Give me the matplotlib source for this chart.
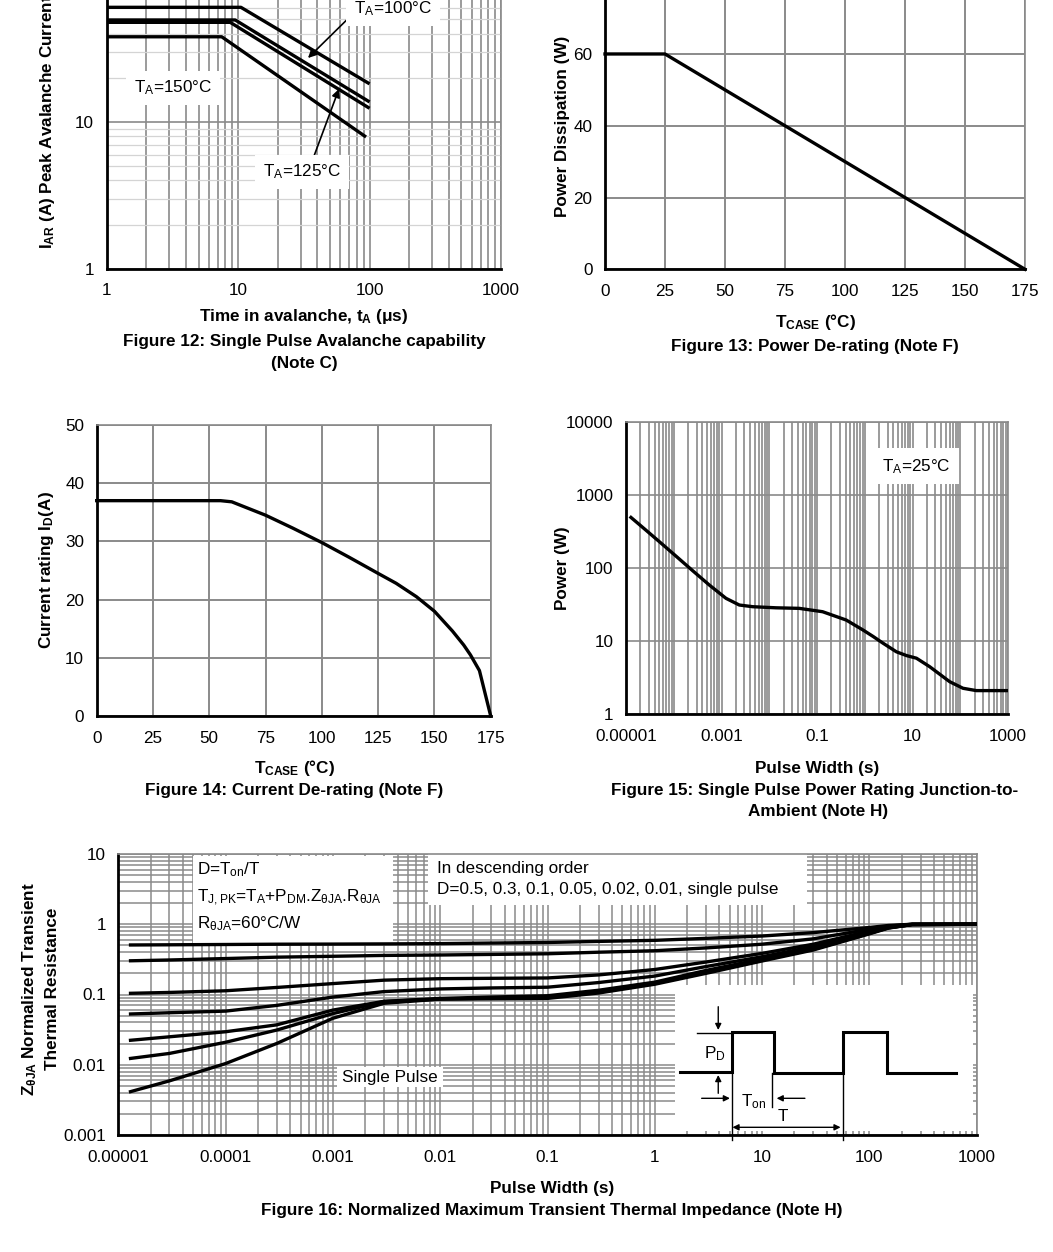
import numpy as np
import matplotlib
matplotlib.use('Agg')
import matplotlib.pyplot as plt
from matplotlib.ticker import FixedLocator, FixedFormatter, LogLocator, NullFormatter
from matplotlib.patches import Rectangle

plt.rcParams['font.family'] = ['Liberation Sans', 'DejaVu Sans']
plt.rcParams['mathtext.fontset'] = 'custom'
plt.rcParams['mathtext.rm'] = 'Liberation Sans'
plt.rcParams['mathtext.default'] = 'regular'

###############################################################################
# Data
###############################################################################

# Figure 12: avalanche current vs time (one curve per ambient temperature)
aval_t_25 = [1, 10.5, 100]
aval_i_25 = [60.5, 60.5, 18.2]
aval_t_100 = [1, 9.5, 100]
aval_i_100 = [49.6, 49.6, 13.7]
aval_t_125 = [1, 8.7, 100]
aval_i_125 = [47.8, 47.8, 12.4]
aval_t_150 = [1, 7.5, 94]
aval_i_150 = [38.1, 38.1, 7.9]
aval_xticks = [1, 10, 100, 1000]
aval_yticks = [1, 10, 100]

# Figure 13: power de-rating
pd_tcase = [0, 25, 175]
pd_watts = [60, 60, 0]

# Figure 14: current de-rating
id_tcase = [0, 55, 60, 75, 87, 100, 112, 125, 133, 142, 150, 158, 163, 166, 170, 175]
id_amps = [37, 37, 36.8, 34.5, 32.3, 29.8, 27.3, 24.5, 22.8, 20.5, 18.0, 14.6, 12.2,
           10.5, 7.8, 0]

temp_ticks = [0, 25, 50, 75, 100, 125, 150, 175]

# Figure 15: single pulse power rating
spp_width = [1.27e-5, 2.6e-5, 5e-5, 1.11e-4, 2.49e-4, 5.56e-4, 1.24e-3, 2.36e-3, 4.5e-3,
             0.0138, 0.0426, 0.131, 0.41, 0.92, 1.5, 2.42, 4.6, 7.5, 12.1, 22.9, 60,
             114, 217, 1000]
spp_power = [490, 329, 228, 145, 91.4, 58.2, 38.3, 31, 29.4, 28.4, 27.9, 25.1, 19.3,
             14.1, 11.5, 9.3, 7.1, 6.3, 5.8, 4.44, 2.77, 2.25, 2.09, 2.09]
spp_xticks = [1e-5, 1e-3, 1e-1, 10, 1000]
spp_xlabels = ['0.00001', '0.001', '0.1', '10', '1000']
spp_yticks = [1, 10, 100, 1000, 10000]
spp_ylabels = ['1', '10', '100', '1000', '10000']

# Figure 16: normalized transient thermal impedance
zth_width = [1.3e-5, 3e-5, 1e-4, 3e-4, 1e-3, 3e-3, 1e-2, 3e-2, 0.1, 0.3, 1, 3, 10, 30,
             100, 150, 250, 1000]
zth_d050 = [0.507, 0.51, 0.515, 0.52, 0.522, 0.525, 0.53, 0.54, 0.55, 0.57, 0.59, 0.63,
            0.68, 0.76, 0.9, 0.96, 1.0, 1.0]
zth_d030 = [0.302, 0.31, 0.325, 0.34, 0.35, 0.36, 0.365, 0.372, 0.38, 0.4, 0.42, 0.46,
            0.52, 0.62, 0.85, 0.94, 1.0, 1.0]
zth_d010 = [0.104, 0.107, 0.113, 0.126, 0.143, 0.16, 0.168, 0.17, 0.172, 0.19, 0.227,
            0.29, 0.385, 0.52, 0.8, 0.92, 1.0, 1.0]
zth_d005 = [0.0528, 0.055, 0.058, 0.07, 0.092, 0.11, 0.12, 0.124, 0.127, 0.148, 0.183,
            0.25, 0.345, 0.48, 0.77, 0.9, 0.99, 1.0]
zth_d002 = [0.0223, 0.025, 0.0295, 0.037, 0.06, 0.08, 0.088, 0.092, 0.096, 0.115, 0.15,
            0.22, 0.32, 0.45, 0.75, 0.89, 0.99, 1.0]
zth_d001 = [0.0123, 0.0145, 0.0209, 0.0312, 0.0535, 0.0795, 0.086, 0.089, 0.092, 0.11,
            0.145, 0.21, 0.31, 0.44, 0.74, 0.89, 0.99, 1.0]
zth_single = [0.00414, 0.0059, 0.0104, 0.0201, 0.0459, 0.075, 0.086, 0.087, 0.088, 0.105,
              0.14, 0.2, 0.30, 0.43, 0.73, 0.88, 0.99, 1.0]
zth_curves = [zth_d050, zth_d030, zth_d010, zth_d005, zth_d002, zth_d001, zth_single]
zth_xticks = [1e-5, 1e-4, 1e-3, 1e-2, 1e-1, 1, 10, 100, 1000]
zth_xlabels = ['0.00001', '0.0001', '0.001', '0.01', '0.1', '1', '10', '100', '1000']
zth_yticks = [1e-3, 1e-2, 1e-1, 1, 10]
zth_ylabels = ['0.001', '0.01', '0.1', '1', '10']

# Duty cycle sketch inside figure 16 (inset units)
pulse_u = [5, 56.7, 56.7, 99, 99, 168.3, 168.3, 211.7, 211.7, 281]
pulse_v = [59, 59, 98.7, 98.7, 58, 58, 98.7, 98.7, 58, 58]

###############################################################################
# Layout helpers (pixel positions of the original page)
###############################################################################
W, H = 1053, 1252
GRID = '#8a8a8a'
LIGHT = '#d4d4d4'
LW = 2.4
TICK = 12.3
LAB = 12.3


def box(l, t, r, b):
    return [l / W, 1 - b / H, (r - l) / W, (b - t) / H]


def px(x, y):
    return x / W, 1 - y / H


def style(ax):
    for s in ['left', 'bottom']:
        ax.spines[s].set_color('black')
        ax.spines[s].set_linewidth(2)
    for s in ['top', 'right']:
        ax.spines[s].set_color(GRID)
        ax.spines[s].set_linewidth(1.2)
    ax.tick_params(which='both', length=0, labelsize=TICK)
    ax.tick_params(axis='x', pad=10.5)
    ax.tick_params(axis='y', pad=9)
    ax.set_axisbelow(True)


fig = plt.figure(figsize=(W / 100, H / 100), dpi=100)

###############################################################################
# Figure 12
###############################################################################
ax = fig.add_axes(box(106.7, -24.7, 501, 268.7))
ax.set_xscale('log')
ax.set_yscale('log')
ax.set_xlim(1, 1000)
ax.set_ylim(1, 100)
for t, i in [(aval_t_25, aval_i_25), (aval_t_100, aval_i_100),
             (aval_t_125, aval_i_125), (aval_t_150, aval_i_150)]:
    ax.plot(t, i, color='black', lw=LW, solid_capstyle='butt', zorder=3)
ax.xaxis.set_major_locator(FixedLocator(aval_xticks))
ax.xaxis.set_major_formatter(FixedFormatter([str(v) for v in aval_xticks]))
ax.yaxis.set_major_locator(FixedLocator(aval_yticks))
ax.yaxis.set_major_formatter(FixedFormatter([str(v) for v in aval_yticks]))
ax.xaxis.set_minor_locator(LogLocator(base=10, subs=np.arange(2, 10)))
ax.yaxis.set_minor_locator(LogLocator(base=10, subs=np.arange(2, 10)))
ax.xaxis.set_minor_formatter(NullFormatter())
ax.yaxis.set_minor_formatter(NullFormatter())
ax.grid(True, which='major', color=GRID, lw=1.2)
ax.grid(True, axis='x', which='minor', color=GRID, lw=1.2)
ax.grid(True, axis='y', which='minor', color=LIGHT, lw=0.9)
style(ax)
wbox = dict(boxstyle='square,pad=0.45', fc='white', ec='none')
ax.text(3.2, 17.1, 'T$_\\mathregular{A}$=150°C', fontsize=LAB, ha='center', va='center', bbox=wbox)
ax.annotate('T$_\\mathregular{A}$=100°C', xy=(34, 27.3), xytext=(151, 58.9), fontsize=LAB,
            ha='center', va='center', bbox=wbox,
            arrowprops=dict(arrowstyle='-|>', color='black', lw=1.2, mutation_scale=12,
                            shrinkA=0, shrinkB=0, relpos=(0.0, 0.3)))
ax.annotate('T$_\\mathregular{A}$=125°C', xy=(58.5, 16.8), xytext=(30.7, 4.56), fontsize=LAB,
            ha='center', va='center', bbox=wbox,
            arrowprops=dict(arrowstyle='-|>', color='black', lw=1.2, mutation_scale=12,
                            shrinkA=0, shrinkB=0, relpos=(0.62, 1.0)))
fig.text(*px(47.5, 122), 'I$_\\mathregular{AR}$ (A) Peak Avalanche Current', rotation=90,
         ha='center', va='center', fontsize=LAB, fontweight='bold')
fig.text(*px(304, 317), 'Time in avalanche, t$_\\mathregular{A}$ (μs)', ha='center', va='center',
         fontsize=LAB, fontweight='bold')
fig.text(*px(304, 341.5), 'Figure 12: Single Pulse Avalanche capability', ha='center',
         va='center', fontsize=LAB, fontweight='bold')
fig.text(*px(304, 363.5), '(Note C)', ha='center', va='center', fontsize=LAB, fontweight='bold')

###############################################################################
# Figure 13
###############################################################################
ax = fig.add_axes(box(605, -17.8, 1025, 269.3))
ax.plot(pd_tcase, pd_watts, color='black', lw=LW, zorder=3, clip_on=False)
ax.set_xlim(0, 175)
ax.set_ylim(0, 80)
ax.set_xticks(temp_ticks)
ax.set_yticks([0, 20, 40, 60, 80])
ax.grid(True, color=GRID, lw=1.4)
style(ax)
fig.text(*px(562.5, 126), 'Power Dissipation (W)', rotation=90, ha='center', va='center',
         fontsize=LAB, fontweight='bold')
fig.text(*px(815.5, 322.5), 'T$_\\mathregular{CASE}$ (°C)', ha='center', va='center',
         fontsize=LAB, fontweight='bold')
fig.text(*px(815, 346.5), 'Figure 13: Power De-rating (Note F)', ha='center', va='center',
         fontsize=LAB, fontweight='bold')

###############################################################################
# Figure 14
###############################################################################
ax = fig.add_axes(box(96.7, 425, 490.7, 716))
ax.plot(id_tcase, id_amps, color='black', lw=LW, zorder=3, clip_on=False)
ax.set_xlim(0, 175)
ax.set_ylim(0, 50)
ax.set_xticks(temp_ticks)
ax.set_yticks([0, 10, 20, 30, 40, 50])
ax.grid(True, color=GRID, lw=1.4)
style(ax)
fig.text(*px(47, 570.5), 'Current rating I$_\\mathregular{D}$(A)', rotation=90, ha='center',
         va='center', fontsize=LAB, fontweight='bold')
fig.text(*px(294, 768), 'T$_\\mathregular{CASE}$ (°C)', ha='center', va='center',
         fontsize=LAB, fontweight='bold')
fig.text(*px(294, 790), 'Figure 14: Current De-rating (Note F)', ha='center', va='center',
         fontsize=LAB, fontweight='bold')

###############################################################################
# Figure 15
###############################################################################
ax = fig.add_axes(box(626, 421.7, 1008, 714))
ax.set_xscale('log')
ax.set_yscale('log')
ax.plot(spp_width, spp_power, color='black', lw=LW, zorder=3)
ax.set_xlim(1e-5, 1000)
ax.set_ylim(1, 10000)
ax.xaxis.set_major_locator(FixedLocator(spp_xticks))
ax.xaxis.set_major_formatter(FixedFormatter(spp_xlabels))
ax.yaxis.set_major_locator(FixedLocator(spp_yticks))
ax.yaxis.set_major_formatter(FixedFormatter(spp_ylabels))
ax.xaxis.set_minor_locator(LogLocator(base=10, subs=np.arange(1, 10), numticks=100))
ax.xaxis.set_minor_formatter(NullFormatter())
ax.yaxis.set_minor_locator(FixedLocator([]))
ax.grid(True, axis='x', which='both', color=GRID, lw=1.2)
ax.grid(True, axis='y', which='major', color=GRID, lw=1.2)
style(ax)
ax.text(11.8, 2460, 'T$_\\mathregular{A}$=25°C', fontsize=LAB, ha='center', va='center',
        bbox=dict(boxstyle='square,pad=0.5', fc='white', ec='none'))
fig.text(*px(562.5, 568), 'Power (W)', rotation=90, ha='center', va='center',
         fontsize=LAB, fontweight='bold')
fig.text(*px(817.5, 768), 'Pulse Width (s)', ha='center', va='center',
         fontsize=LAB, fontweight='bold')
fig.text(*px(815, 790), 'Figure 15: Single Pulse Power Rating Junction-to-', ha='center',
         va='center', fontsize=LAB, fontweight='bold')
fig.text(*px(818, 811.5), 'Ambient (Note H)', ha='center', va='center',
         fontsize=LAB, fontweight='bold')

###############################################################################
# Figure 16
###############################################################################
ax = fig.add_axes(box(118.3, 854, 976.7, 1135))
ax.set_xscale('log')
ax.set_yscale('log')
for z in zth_curves:
    ax.plot(zth_width, z, color='black', lw=LW, zorder=3)
ax.set_xlim(1e-5, 1000)
ax.set_ylim(1e-3, 10)
ax.xaxis.set_major_locator(FixedLocator(zth_xticks))
ax.xaxis.set_major_formatter(FixedFormatter(zth_xlabels))
ax.yaxis.set_major_locator(FixedLocator(zth_yticks))
ax.yaxis.set_major_formatter(FixedFormatter(zth_ylabels))
ax.xaxis.set_minor_locator(LogLocator(base=10, subs=np.arange(2, 10), numticks=100))
ax.yaxis.set_minor_locator(LogLocator(base=10, subs=np.arange(2, 10), numticks=100))
ax.xaxis.set_minor_formatter(NullFormatter())
ax.yaxis.set_minor_formatter(NullFormatter())
ax.grid(True, which='both', color=GRID, lw=1.1)
style(ax)

# white note boxes over the grid
for (x0, y0, w, h) in [(0.087, 0.683, 0.233, 0.31), (0.361, 0.819, 0.441, 0.181),
                       (0.255, 0.171, 0.123, 0.071)]:
    ax.add_patch(Rectangle((x0, y0), w, h, transform=ax.transAxes, fc='white', ec='none',
                           zorder=2))
ax.text(0.092, 0.943, 'D=T$_\\mathregular{on}$/T', transform=ax.transAxes, fontsize=LAB,
        va='center', zorder=4)
ax.text(0.092, 0.843, 'T$_\\mathregular{J,PK}$=T$_\\mathregular{A}$+P$_\\mathregular{DM}$.'
        'Z$_\\mathregular{θJA}$.R$_\\mathregular{θJA}$', transform=ax.transAxes, fontsize=LAB,
        va='center', zorder=4)
ax.text(0.092, 0.751, 'R$_\\mathregular{θJA}$=60°C/W', transform=ax.transAxes, fontsize=LAB,
        va='center', zorder=4)
ax.text(0.371, 0.947, 'In descending order', transform=ax.transAxes, fontsize=LAB,
        va='center', zorder=4)
ax.text(0.371, 0.872, 'D=0.5, 0.3, 0.1, 0.05, 0.02, 0.01, single pulse',
        transform=ax.transAxes, fontsize=LAB, va='center', zorder=4)
ax.text(0.316, 0.206, 'Single Pulse', transform=ax.transAxes, fontsize=LAB,
        ha='center', va='center', zorder=4)

# duty cycle sketch
ins = ax.inset_axes([0.6485, 0.0142, 0.347, 0.5196])
ins.set_xlim(0, 298)
ins.set_ylim(0, 146)
ins.set_facecolor('white')
ins.set_xticks([])
ins.set_yticks([])
for s in ins.spines.values():
    s.set_visible(False)
ins.plot(pulse_u, pulse_v, color='black', lw=2.2, solid_joinstyle='miter')
thin = dict(color='black', lw=1.0, clip_on=False)
ins.plot([21.7, 56.7], [98.2, 98.2], **thin)
ins.plot([56.7, 56.7], [98.7, -9], **thin)
ins.plot([167.7, 167.7], [58, -9], **thin)
ins.plot([97.3, 97.3], [58, 24.3], **thin)
arr = dict(arrowstyle='-|>', color='black', lw=1.0, mutation_scale=9, shrinkA=0, shrinkB=0)
ins.annotate('', xy=(43.3, 101), xytext=(43.3, 124.3), arrowprops=arr)
ins.annotate('', xy=(43.3, 56), xytext=(43.3, 37.7), arrowprops=arr)
ins.annotate('', xy=(55, 32.7), xytext=(26.7, 32.7), arrowprops=arr)
ins.annotate('', xy=(101.7, 32.7), xytext=(130, 32.7), arrowprops=arr)
ins.annotate('', xy=(57.5, 3.7), xytext=(165.7, 3.7),
             arrowprops=dict(arrowstyle='<|-|>', color='black', lw=1.0, mutation_scale=9,
                             shrinkA=0, shrinkB=0))
ins.text(40, 77.7, 'P$_\\mathregular{D}$', fontsize=LAB, ha='center', va='center')
ins.text(78.3, 29.3, 'T$_\\mathregular{on}$', fontsize=LAB, ha='center', va='center')
ins.text(108.3, 14.3, 'T', fontsize=LAB, ha='center', va='center')

fig.text(*px(30, 989), 'Z$_\\mathregular{θJA}$ Normalized Transient', rotation=90,
         ha='center', va='center', fontsize=LAB, fontweight='bold')
fig.text(*px(53, 989), 'Thermal Resistance', rotation=90, ha='center', va='center',
         fontsize=LAB, fontweight='bold')
fig.text(*px(552, 1188), 'Pulse Width (s)', ha='center', va='center',
         fontsize=LAB, fontweight='bold')
fig.text(*px(552, 1210), 'Figure 16: Normalized Maximum Transient Thermal Impedance (Note H)',
         ha='center', va='center', fontsize=LAB, fontweight='bold')

plt.savefig('out.png', dpi=100)
